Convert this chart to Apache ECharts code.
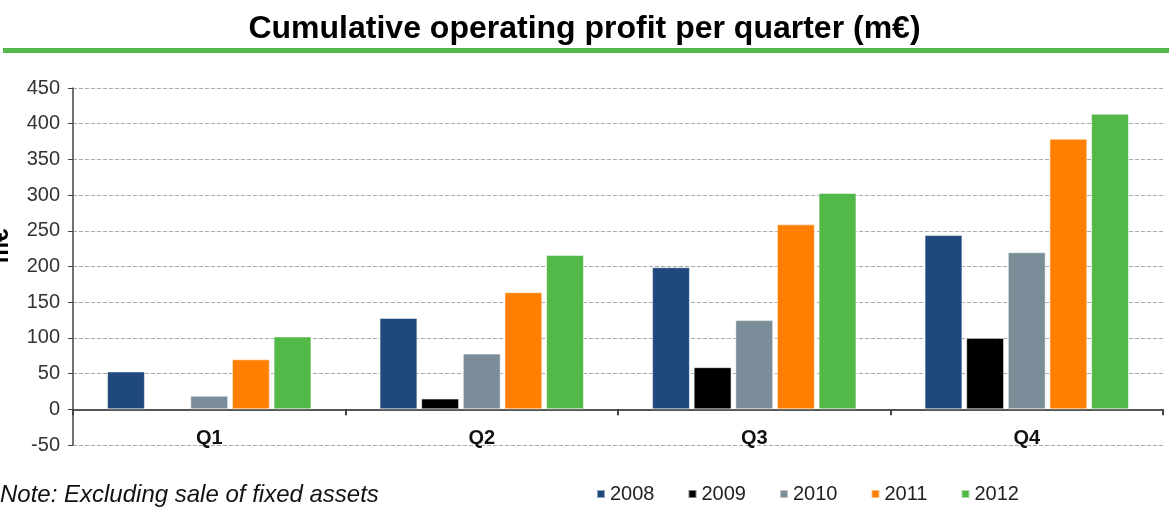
<!DOCTYPE html>
<html>
<head>
<meta charset="utf-8">
<script src="https://cdn.jsdelivr.net/npm/echarts@6/dist/echarts.min.js"></script>
<style>
  html, body { margin: 0; padding: 0; background: #fff; }
  #main { width: 1169px; height: 516px; }
</style>
</head>
<body>
<div id="main"></div>
<script>
// 数据
var quarters = ['Q1', 'Q2', 'Q3', 'Q4'];
var years = ['2008', '2009', '2010', '2011', '2012'];
var v2008 = [53, 128, 199, 244];
var v2009 = ['-', 15, 59, 100];
var v2010 = [19, 78, 125, 220];
var v2011 = [70, 164, 259, 379];
var v2012 = [102, 216, 303, 414];
var yTicks = [-50, 0, 50, 100, 150, 200, 250, 300, 350, 400, 450];

var colors = ['#1f487c', '#000000', '#7b8d98', '#ff7f00', '#52b848'];
var allValues = [v2008, v2009, v2010, v2011, v2012];
var font = 'Liberation Sans, Arial, sans-serif';

var myChart = echarts.init(document.getElementById('main'));

var series = [];
for (var i = 0; i < years.length; i++) {
    series.push({
        name: years[i],
        type: 'bar',
        data: allValues[i],
        barGap: '10%',
        barCategoryGap: '25%',
        itemStyle: {
            color: colors[i],
            borderColor: 'rgba(255,255,255,0.5)',
            borderWidth: 1
        }
    });
}

myChart.setOption({
    animation: false,
    textStyle: { fontFamily: font },
    title: {
        text: 'Cumulative operating profit per quarter (m€)',
        left: 'center',
        top: 8,
        textStyle: { fontSize: 32, fontWeight: 'bold', color: '#000', fontFamily: font }
    },
    graphic: [
        { type: 'rect', shape: { x: 3, y: 48, width: 1166, height: 5 }, style: { fill: '#55b84b' } },
        {
            type: 'text', left: 0, top: 483,
            style: { text: 'Note: Excluding sale of fixed assets', fontSize: 24, fontStyle: 'italic', fill: '#111', fontFamily: font }
        },
        {
            type: 'text', x: 1, y: 246, rotation: Math.PI / 2,
            style: { text: 'm€', fontSize: 24, fontWeight: 'bold', fill: '#000', align: 'center', verticalAlign: 'middle', fontFamily: font }
        }
    ],
    legend: {
        data: years,
        left: 591,
        top: 479,
        icon: 'rect',
        itemWidth: 8,
        itemHeight: 8,
        itemGap: 33,
        textStyle: { fontSize: 20, color: '#222' }
    },
    grid: { left: 73, right: 6, top: 88, bottom: 71, containLabel: false, outerBoundsMode: 'none' },
    xAxis: {
        type: 'category',
        data: quarters,
        axisLine: { onZero: true, lineStyle: { color: '#555', width: 2 } },
        axisTick: { show: true, length: 6, lineStyle: { color: '#444', width: 2 } },
        axisLabel: { fontSize: 20, fontWeight: 'bold', color: '#111', margin: -17 }
    },
    yAxis: {
        type: 'value',
        min: yTicks[0],
        max: yTicks[yTicks.length - 1],
        interval: 50,
        axisLine: { show: true, lineStyle: { color: '#444', width: 1.5 } },
        axisTick: { show: true, length: 5, lineStyle: { color: '#444' } },
        axisLabel: { fontSize: 20, color: '#333', margin: 13 },
        splitLine: { lineStyle: { color: '#aaa', type: [4, 2] } }
    },
    series: series
});
</script>
</body>
</html>
